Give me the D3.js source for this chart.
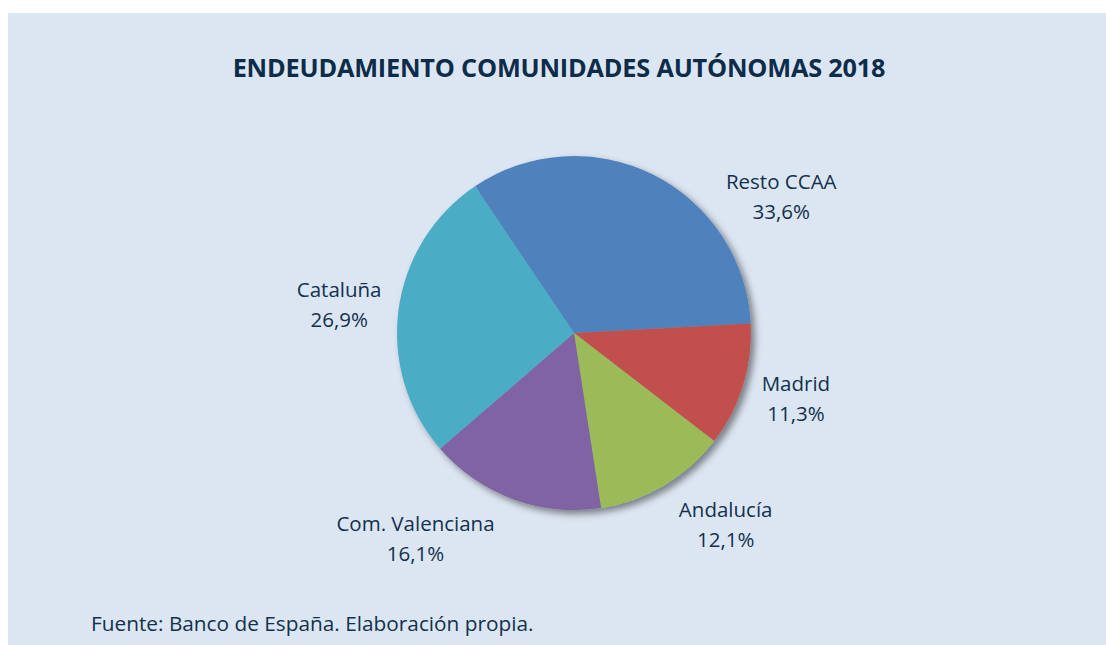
<!DOCTYPE html>
<html>
<head>
<meta charset="utf-8">
<script src="https://cdn.jsdelivr.net/npm/d3@7"></script>
<style>
  body { margin: 0; background: #fff; }
  svg text { font-family: "Open Sans", "Noto Sans", sans-serif; fill: #12314f; }
</style>
</head>
<body>
<div class="container"></div>
<script>
var w = 1106;
var h = 645;

// data
var categories = ["Resto CCAA", "Madrid", "Andalucía", "Com. Valenciana", "Cataluña"];
var values = [33.6, 11.3, 12.1, 16.1, 26.9];
var colors = ["#4f81bd", "#c0504d", "#9bbb59", "#8064a2", "#4bacc6"];
var title = "ENDEUDAMIENTO COMUNIDADES AUTÓNOMAS 2018";
var source = "Fuente: Banco de España. Elaboración propia.";

// layout
var cx = 574, cy = 333, r = 177;
var labelR = 245;
var labelNudge = [[98, 91], [-12, 1], [27, -11], [-74, -16], [8, 12]];

var canvas = d3.select(".container").append("svg")
  .attr("width", w)
  .attr("height", h);

var defs = canvas.append("defs");
var shadow = defs.append("filter").attr("id", "shadow")
  .attr("x", "-20%").attr("y", "-20%").attr("width", "140%").attr("height", "140%");
shadow.append("feDropShadow")
  .attr("dx", 4).attr("dy", 4).attr("stdDeviation", 3.5)
  .attr("flood-color", "#000").attr("flood-opacity", 0.45);

canvas.append("rect")
  .attr("x", 8).attr("y", 13)
  .attr("width", w - 8).attr("height", h - 13)
  .attr("fill", "#dce6f2");

canvas.append("text")
  .attr("x", 559).attr("y", 77)
  .attr("text-anchor", "middle")
  .attr("font-weight", "bold")
  .attr("font-size", 25.3)
  .attr("letter-spacing", -0.2)
  .style("fill", "#0d2c4a")
  .text(title);

var pie = d3.pie().sort(null).value((d) => d)
  .startAngle(-34 * Math.PI / 180)
  .endAngle((360 - 34) * Math.PI / 180);
var arcs = pie(values);
var arc = d3.arc().innerRadius(0).outerRadius(r);
var labelArc = d3.arc().innerRadius(labelR).outerRadius(labelR);

var g = canvas.append("g").attr("transform", "translate(" + cx + "," + cy + ")");

g.append("g").attr("filter", "url(#shadow)")
  .selectAll("path").data(arcs)
  .enter().append("path")
  .attr("d", arc)
  .attr("fill", (d, i) => colors[i]);

var labels = g.selectAll(".lab").data(arcs)
  .enter().append("text")
  .attr("class", "lab")
  .attr("text-anchor", "middle")
  .attr("font-size", 20.5)
  .attr("transform", (d, i) => {
    var c = labelArc.centroid(d);
    return "translate(" + (c[0] + labelNudge[i][0]) + "," + (c[1] + labelNudge[i][1]) + ")";
  });

labels.append("tspan").attr("x", 0).attr("y", -16)
  .text((d, i) => categories[i]);
labels.append("tspan").attr("x", 0).attr("y", 14)
  .text((d, i) => d3.format(".1f")(values[i]).replace(".", ",") + "%");

canvas.append("text")
  .attr("x", 91).attr("y", 631)
  .attr("font-size", 20.8)
  .text(source);
</script>
</body>
</html>
